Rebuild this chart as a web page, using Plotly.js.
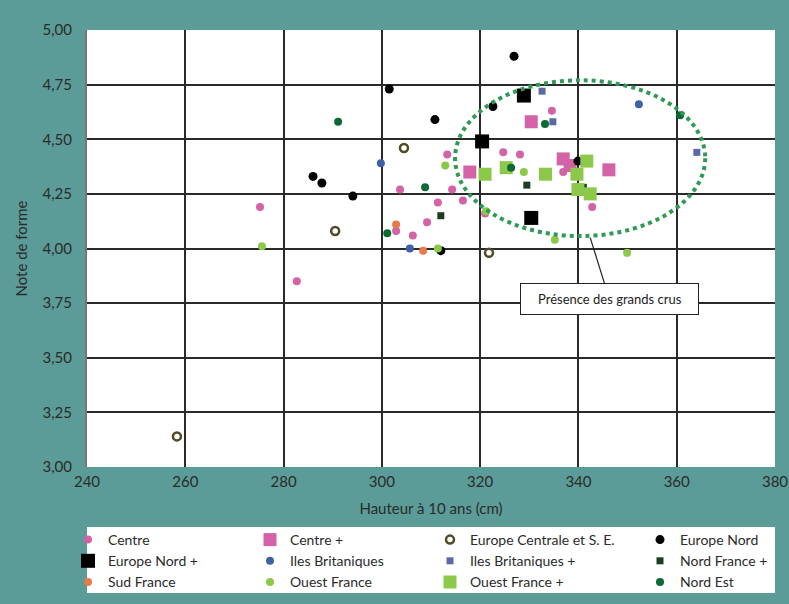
<!DOCTYPE html>
<html><head><meta charset="utf-8">
<script src="https://cdn.plot.ly/plotly-3.0.1.min.js"></script>
<style>html,body{margin:0;padding:0;background:#5b9b98;}</style>
</head><body><div id="chart" style="width:789px;height:604px;"></div>
<script>
// Data
const centreX = [275.2, 282.7, 302.9, 303.7, 306.3, 309.2, 311.4, 314.3, 316.5, 313.3, 324.7, 328.1, 334.6, 321.0, 342.8, 336.9];
const centreY = [4.19, 3.85, 4.08, 4.27, 4.06, 4.12, 4.21, 4.27, 4.22, 4.43, 4.44, 4.43, 4.63, 4.16, 4.19, 4.35];
const centrePX = [330.4, 336.9, 346.2, 317.9, 338.3];
const centrePY = [4.58, 4.41, 4.36, 4.35, 4.38];
const eurCentX = [258.3, 290.5, 304.5, 321.8];
const eurCentY = [3.14, 4.08, 4.46, 3.98];
const eurNordX = [326.9, 301.5, 310.8, 286.0, 287.8, 294.1, 322.6, 312.0, 339.9];
const eurNordY = [4.88, 4.73, 4.59, 4.33, 4.30, 4.24, 4.65, 3.99, 4.40];
const eurNordPX = [328.9, 320.4, 330.4];
const eurNordPY = [4.70, 4.49, 4.14];
const ilesX = [299.8, 305.7, 352.3];
const ilesY = [4.39, 4.00, 4.66];
const ilesPX = [332.6, 334.8, 364.1];
const ilesPY = [4.72, 4.58, 4.44];
const nordFrPX = [312.0, 329.5, 341.0];
const nordFrPY = [4.15, 4.29, 4.28];
const sudX = [302.9, 308.4];
const sudY = [4.11, 3.99];
const ouestX = [275.6, 349.9, 335.2, 311.4, 312.9, 328.9, 321.2];
const ouestY = [4.01, 3.98, 4.04, 4.00, 4.38, 4.35, 4.17];
const ouestPX = [321.0, 325.3, 333.3, 341.7, 339.7, 339.9, 342.4];
const ouestPY = [4.34, 4.37, 4.34, 4.40, 4.34, 4.27, 4.25];
const nordEstX = [291.1, 308.8, 301.1, 326.3, 333.2, 360.7];
const nordEstY = [4.58, 4.28, 4.07, 4.37, 4.57, 4.61];
const xTicks = [240, 260, 280, 300, 320, 340, 360, 380];
const yTicks = [3.00, 3.25, 3.50, 3.75, 4.00, 4.25, 4.50, 4.75, 5.00];
const yTickText = ["3,00", "3,25", "3,50", "3,75", "4,00", "4,25", "4,50", "4,75", "5,00"];

function tr(name, x, y, symbol, size, color, leg, lineColor, lineWidth) {
  return {type: 'scatter', mode: 'markers', name: name, x: x, y: y, legend: leg,
    marker: {symbol: symbol, size: size, color: color,
      line: {color: lineColor || color, width: lineWidth || 0}}};
}
const traces = [
  tr('Centre', centreX, centreY, 'circle', 8, '#d462a6', 'legend'),
  tr('Centre +', centrePX, centrePY, 'square', 13, '#d462a6', 'legend2'),
  tr('Europe Centrale et S. E.', eurCentX, eurCentY, 'circle', 8, '#ffffff', 'legend3', '#4f4b25', 2.5),
  tr('Europe Nord', eurNordX, eurNordY, 'circle', 9, '#000000', 'legend4'),
  tr('Europe Nord +', eurNordPX, eurNordPY, 'square', 14, '#000000', 'legend'),
  tr('Iles Britaniques', ilesX, ilesY, 'circle', 8, '#3f62a6', 'legend2'),
  tr('Iles Britaniques +', ilesPX, ilesPY, 'square', 7, '#5a6aa6', 'legend3'),
  tr('Nord France +', nordFrPX, nordFrPY, 'square', 7, '#1c3d22', 'legend4'),
  tr('Sud France', sudX, sudY, 'circle', 8, '#e67a4c', 'legend'),
  tr('Ouest France', ouestX, ouestY, 'circle', 8, '#8cc84a', 'legend2'),
  tr('Ouest France +', ouestPX, ouestPY, 'square', 13, '#8cc84a', 'legend3'),
  tr('Nord Est', nordEstX, nordEstY, 'circle', 8, '#0c6a35', 'legend4')
];

const plotL = 87, plotW = 688, plotB = 467, plotH = 437;
function px2x(p) { return (p - plotL) / plotW; }
function py2y(p) { return (plotB - p) / plotH; }
function leg(pxLeft) {
  return {orientation: 'v', x: px2x(pxLeft), y: py2y(524), xanchor: 'left', yanchor: 'top',
    bgcolor: 'rgba(0,0,0,0)', font: {size: 14, color: '#2b2b2b'}, tracegroupgap: 0,
    itemwidth: 30};
}

const layout = {
  width: 789, height: 604,
  paper_bgcolor: '#5b9b98', plot_bgcolor: '#ffffff',
  margin: {l: 87, r: 14, t: 30, b: 137, autoexpand: false},
  font: {family: 'Lato, "Open Sans", sans-serif', color: '#2b2b2b', size: 15},
  showlegend: true,
  xaxis: {range: [240, 380], tickvals: xTicks, ticktext: xTicks.map(String),
    showgrid: true, gridcolor: '#2a2a2a', gridwidth: 2, zeroline: false,
    showline: false, ticks: '', ticklabelstandoff: 4, tickfont: {size: 15, color: '#2b2b2b'},
    title: {text: 'Hauteur à 10 ans (cm)', font: {size: 15, color: '#2b2b2b'}, standoff: 14}},
  yaxis: {range: [3.0, 5.0], tickvals: yTicks, ticktext: yTickText,
    showgrid: true, gridcolor: '#2a2a2a', gridwidth: 2, zeroline: false,
    showline: true, linecolor: '#777', linewidth: 2, ticks: '', ticklabelstandoff: 10,
    tickfont: {size: 15, color: '#2b2b2b'},
    title: {text: 'Note de forme', font: {size: 15, color: '#2b2b2b'}, standoff: 11}},
  legend: leg(68),
  legend2: leg(250),
  legend3: leg(430),
  legend4: leg(640),
  shapes: [
    {type: 'rect', xref: 'paper', yref: 'paper', layer: 'below',
      x0: px2x(87), x1: px2x(775), y0: py2y(527), y1: py2y(593),
      fillcolor: '#ffffff', line: {width: 0}},
    {type: 'circle', xref: 'x', yref: 'y', x0: 314.9, x1: 365.8, y0: 4.057, y1: 4.77,
      line: {color: '#2e9a55', width: 4, dash: 'dot'}}],
  annotations: [{x: 342.4, y: 4.05, xref: 'x', yref: 'y', text: '   Présence des grands crus   ',
    showarrow: true, arrowhead: 0, arrowwidth: 1.2, arrowcolor: '#222', ax: 19, ay: 61,
    bgcolor: '#ffffff', bordercolor: '#222', borderwidth: 1, borderpad: 7,
    font: {size: 13, color: '#222'}}]
};
Plotly.newPlot('chart', traces, layout, {displayModeBar: false});
</script></body></html>
